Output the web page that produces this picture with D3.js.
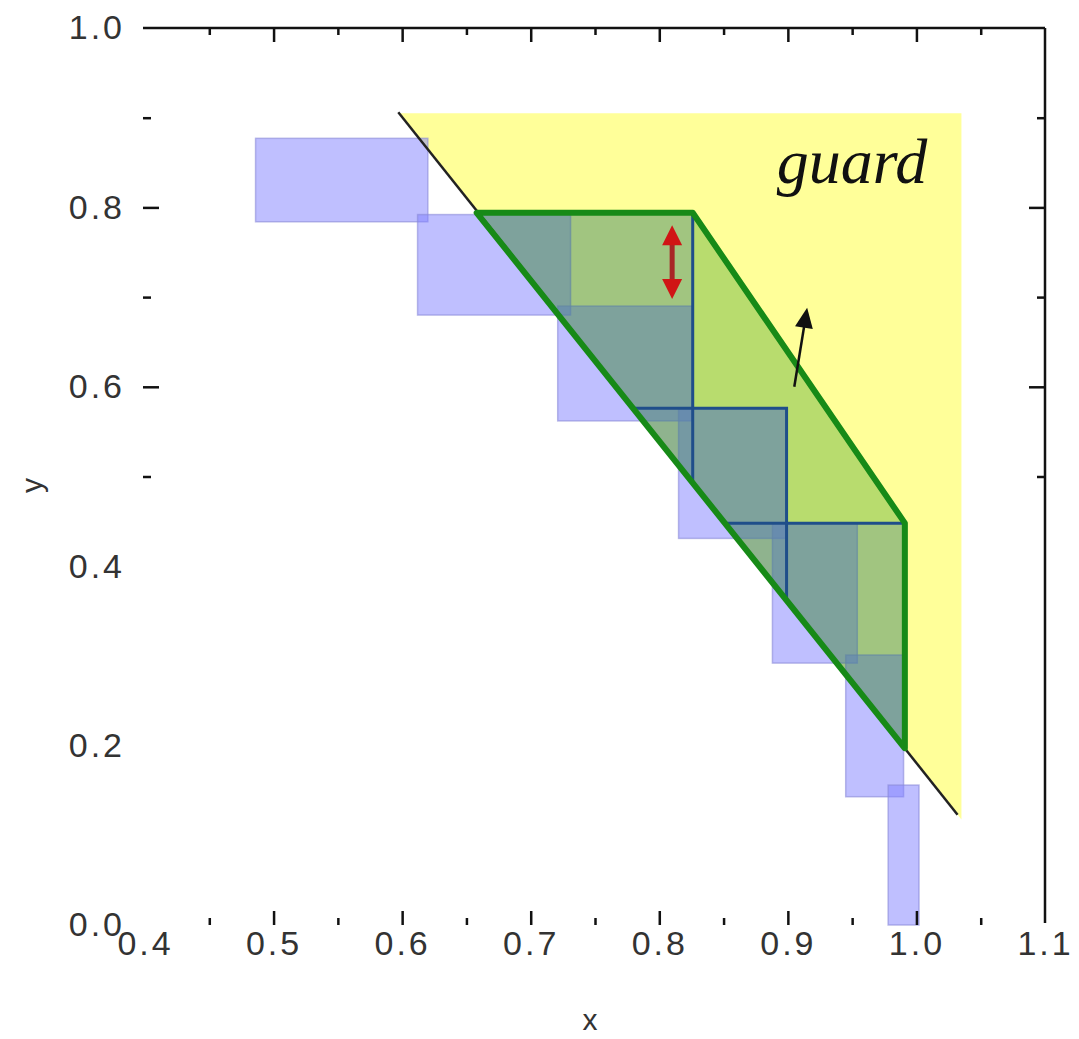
<!DOCTYPE html>
<html>
<head>
<meta charset="utf-8">
<script src="https://cdn.jsdelivr.net/npm/d3@7"></script>
<style>
  html, body { margin: 0; padding: 0; background: #ffffff; }
  text { font-family: "Liberation Sans", Arial, sans-serif; }
</style>
</head>
<body>
<svg id="chart" width="1079" height="1039"></svg>
<script>
// ---- axis ticks ----
const xLabelTicks = [0.4, 0.5, 0.6, 0.7, 0.8, 0.9, 1.0, 1.1];
const xMajorTicks = [0.5, 0.6, 0.7, 0.8, 0.9, 1.0];
const xMinorTicks = [0.45, 0.55, 0.65, 0.75, 0.85, 0.95, 1.05];
const yLabelTicks = [0.0, 0.2, 0.4, 0.6, 0.8, 1.0];
const yMajorTicks = [0.6, 0.8];
const yMinorTicks = [0.5, 0.7, 0.9];

// ---- staircase boxes ----
const boxLeft   = [0.486, 0.612, 0.721, 0.815, 0.888, 0.945, 0.978];
const boxRight  = [0.620, 0.731, 0.826, 0.899, 0.954, 0.990, 1.002];
const boxTop    = [0.877, 0.792, 0.690, 0.576, 0.448, 0.301, 0.156];
const boxBottom = [0.784, 0.680, 0.562, 0.431, 0.292, 0.143, 0.000];

// ---- frontier line (end points) ----
const frontierX = [0.597, 1.032];
const frontierY = [0.906, 0.123];

// ---- guard region bounds ----
const guardTop = 0.905;
const guardRight = 1.035;

// ---- band (parallelogram) vertices ----
const bandX = [0.658, 0.826, 0.991, 0.991];
const bandY = [0.794, 0.794, 0.448, 0.197];

// ---- corner triangles: their top-right corners ----
const cornerX = [0.826, 0.899, 0.991];
const cornerY = [0.794, 0.576, 0.448];

// ---- arrows ----
const pushFromX = 0.905, pushFromY = 0.600;
const pushToX = 0.915, pushToY = 0.688;
const gapX = 0.810;
const gapY = [0.780, 0.698];

const svg = d3.select("#chart");
const x = d3.scaleLinear().domain([0.4, 1.1]).range([145, 1045]);
const y = d3.scaleLinear().domain([0, 1]).range([925, 28]);

// points on the frontier line
const slope = (frontierY[1] - frontierY[0]) / (frontierX[1] - frontierX[0]);
const yOn = xv => frontierY[0] + slope * (xv - frontierX[0]);
const xOn = yv => frontierX[0] + (yv - frontierY[0]) / slope;

const line = d3.line().x(d => x(d[0])).y(d => y(d[1]));

// guard region
svg.append("path")
  .attr("d", line([[xOn(guardTop), guardTop], [guardRight, guardTop], [guardRight, yOn(guardRight)]]) + "Z")
  .attr("fill", "#ffff99");

// staircase boxes
svg.append("g").selectAll("rect")
  .data(boxLeft.map((l, i) => ({ l, r: boxRight[i], t: boxTop[i], b: boxBottom[i] })))
  .join("rect")
  .attr("x", d => x(d.l))
  .attr("y", d => y(d.t))
  .attr("width", d => x(d.r) - x(d.l))
  .attr("height", d => y(d.b) - y(d.t))
  .attr("fill", "#8080ff")
  .attr("fill-opacity", 0.5)
  .attr("stroke", "#8a8ad8")
  .attr("stroke-opacity", 0.6)
  .attr("stroke-width", 1.5);

// corner triangles
const tri = cornerX.map((cx, i) => {
  const cy = cornerY[i];
  return [[xOn(cy), cy], [cx, cy], [cx, yOn(cx)]];
});
svg.append("g").selectAll("path")
  .data(tri)
  .join("path")
  .attr("d", d => line(d) + "Z")
  .attr("fill", "#8080ff")
  .attr("fill-opacity", 0.25);

// band fill
const band = bandX.map((bx, i) => [bx, bandY[i]]);
svg.append("path")
  .attr("d", line(band) + "Z")
  .attr("fill", "#008000")
  .attr("fill-opacity", 0.28);

// triangle outlines (top and right edges)
svg.append("g").selectAll("path")
  .data(tri)
  .join("path")
  .attr("d", d => line(d))
  .attr("fill", "none")
  .attr("stroke", "#1f4e8a")
  .attr("stroke-width", 3);

// frontier line
svg.append("path")
  .attr("d", line([[frontierX[0], frontierY[0]], [frontierX[1], frontierY[1]]]))
  .attr("stroke", "#222")
  .attr("stroke-width", 2.5)
  .attr("fill", "none");

// band outline
svg.append("path")
  .attr("d", line(band) + "Z")
  .attr("fill", "none")
  .attr("stroke", "#178a17")
  .attr("stroke-width", 6)
  .attr("stroke-linejoin", "round");

// arrow helper: head triangle at (tx,ty) pointing away from (fx,fy)
function head(fx, fy, tx, ty, len, half) {
  const dx = tx - fx, dy = ty - fy, n = Math.hypot(dx, dy);
  const ux = dx / n, uy = dy / n;
  const bx = tx - ux * len, by = ty - uy * len;
  return `M${tx},${ty}L${bx - uy * half},${by + ux * half}L${bx + uy * half},${by - ux * half}Z`;
}

// push direction arrow
{
  const fx = x(pushFromX), fy = y(pushFromY), tx = x(pushToX), ty = y(pushToY);
  const n = Math.hypot(tx - fx, ty - fy);
  svg.append("line")
    .attr("x1", fx).attr("y1", fy)
    .attr("x2", fx + (tx - fx) * (n - 14) / n).attr("y2", fy + (ty - fy) * (n - 14) / n)
    .attr("stroke", "#111").attr("stroke-width", 2.5);
  svg.append("path").attr("d", head(fx, fy, tx, ty, 20, 9)).attr("fill", "#111");
}

// gap double arrow
{
  const gx = x(gapX), g0 = y(gapY[0]), g1 = y(gapY[1]);
  svg.append("line")
    .attr("x1", gx).attr("y1", g0 + 14)
    .attr("x2", gx).attr("y2", g1 - 14)
    .attr("stroke", "#a82626").attr("stroke-width", 5);
  svg.append("path").attr("d", head(gx, g1, gx, g0, 20, 10)).attr("fill", "#d01515");
  svg.append("path").attr("d", head(gx, g0, gx, g1, 20, 10)).attr("fill", "#d01515");
}

// guard label
svg.append("text")
  .attr("x", 852)
  .attr("y", 183)
  .attr("text-anchor", "middle")
  .style("font-family", "'Liberation Serif', 'Times New Roman', serif")
  .style("font-style", "italic")
  .style("font-size", "64px")
  .attr("fill", "#111")
  .text("guard");

// ---- axes ----
const labelStyle = g => g.selectAll("text")
  .style("font-family", "'Liberation Sans', Arial, sans-serif")
  .style("font-size", "34px")
  .style("letter-spacing", "3px")
  .attr("fill", "#333");

// frame lines on top and right
svg.append("line").attr("x1", 143).attr("y1", y(1)).attr("x2", x(1.1)).attr("y2", y(1))
  .attr("stroke", "#111").attr("stroke-width", 2.5);
svg.append("line").attr("x1", x(1.1)).attr("y1", y(1)).attr("x2", x(1.1)).attr("y2", y(0) - 2)
  .attr("stroke", "#111").attr("stroke-width", 2.5);

const tickStyle = g => {
  g.select(".domain").remove();
  g.selectAll("line").attr("stroke", "#111").attr("stroke-width", 2.5);
};

// bottom: labels and inward ticks
svg.append("g").attr("transform", `translate(0,${y(0)})`)
  .call(d3.axisBottom(x).tickValues(xLabelTicks).tickSize(0).tickPadding(6).tickFormat(d3.format(".1f")))
  .call(g => g.select(".domain").remove())
  .call(labelStyle);
svg.append("g").attr("transform", `translate(0,${y(0)})`)
  .call(d3.axisBottom(x).tickValues(xMajorTicks).tickSize(-14).tickFormat(""))
  .call(tickStyle);
svg.append("g").attr("transform", `translate(0,${y(0)})`)
  .call(d3.axisBottom(x).tickValues(xMinorTicks).tickSize(-7).tickFormat(""))
  .call(tickStyle);

// top: inward ticks
svg.append("g").attr("transform", `translate(0,${y(1)})`)
  .call(d3.axisTop(x).tickValues(xMajorTicks).tickSize(-14).tickFormat(""))
  .call(tickStyle);
svg.append("g").attr("transform", `translate(0,${y(1)})`)
  .call(d3.axisTop(x).tickValues(xMinorTicks).tickSize(-7).tickFormat(""))
  .call(tickStyle);

// left: labels and inward ticks
svg.append("g").attr("transform", `translate(${x(0.4)},0)`)
  .call(d3.axisLeft(y).tickValues(yLabelTicks).tickSize(0).tickPadding(20).tickFormat(d3.format(".1f")))
  .call(g => g.select(".domain").remove())
  .call(labelStyle);
svg.append("g").attr("transform", `translate(${x(0.4) - 2},0)`)
  .call(d3.axisLeft(y).tickValues(yMajorTicks).tickSize(-16).tickFormat(""))
  .call(tickStyle);
svg.append("g").attr("transform", `translate(${x(0.4) - 2},0)`)
  .call(d3.axisLeft(y).tickValues(yMinorTicks).tickSize(-8).tickFormat(""))
  .call(tickStyle);

// right: inward ticks
svg.append("g").attr("transform", `translate(${x(1.1)},0)`)
  .call(d3.axisRight(y).tickValues(yMajorTicks).tickSize(-16).tickFormat(""))
  .call(tickStyle);
svg.append("g").attr("transform", `translate(${x(1.1)},0)`)
  .call(d3.axisRight(y).tickValues(yMinorTicks).tickSize(-8).tickFormat(""))
  .call(tickStyle);

// axis titles
svg.append("text")
  .attr("x", 590).attr("y", 1030)
  .attr("text-anchor", "middle")
  .style("font-size", "30px")
  .attr("fill", "#333")
  .text("x");
svg.append("text")
  .attr("transform", `translate(42,${y(0.49)}) rotate(-90)`)
  .attr("text-anchor", "middle")
  .style("font-size", "30px")
  .attr("fill", "#333")
  .text("y");
</script>
</body>
</html>
